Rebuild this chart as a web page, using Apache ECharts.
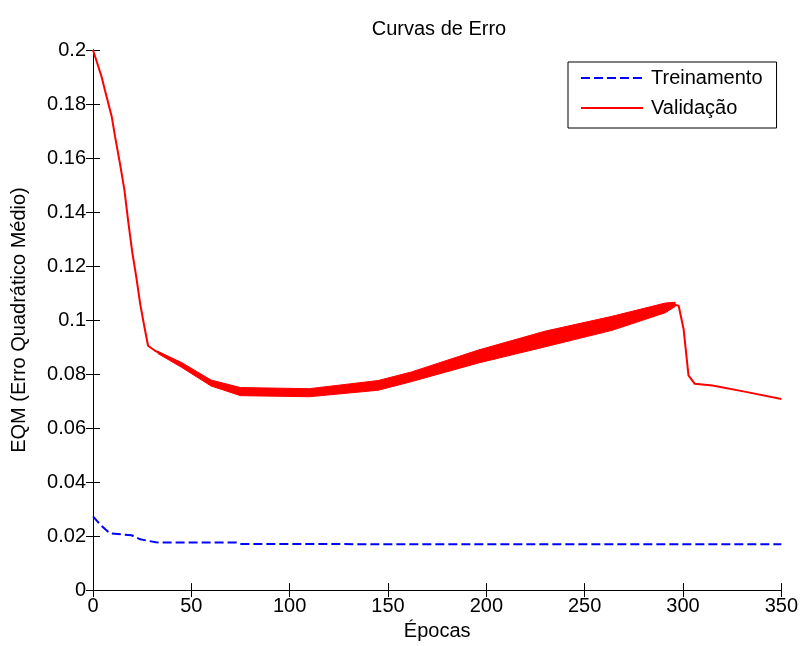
<!DOCTYPE html>
<html>
<head>
<meta charset="utf-8">
<script src="https://cdn.jsdelivr.net/npm/echarts@6/dist/echarts.min.js"></script>
<style>
html,body{margin:0;padding:0;background:#fff;}
#c{width:801px;height:646px;}
</style>
</head>
<body>
<div id="c"></div>
<script>
// ---- data ----
var titleText = 'Curvas de Erro';
var xName = 'Épocas';
var yName = 'EQM (Erro Quadrático Médio)';
var seriesNames = ['Treinamento', 'Validação'];

var trainX = [0, 4, 8.6, 19.6, 24, 32, 35, 73, 74.6, 150, 250, 350];
var trainY = [0.0273, 0.0240, 0.0210, 0.0203, 0.0188, 0.0177, 0.0176, 0.0176, 0.0171, 0.0170, 0.0170, 0.0170];

var valX = [0, 4.4, 6.1, 9.5, 11.2, 13.7, 16, 18, 20, 22, 24, 26, 28, 31.4, 36.5, 44, 52.6, 61, 71, 81, 92, 103, 120, 134, 145, 162, 179, 196, 213, 230, 247, 264, 281, 291, 294, 297.8, 300.3, 302.8, 306, 315, 332, 350];
var valY = [0.200, 0.190, 0.185, 0.1754, 0.168, 0.158, 0.148, 0.136, 0.125, 0.116, 0.106, 0.098, 0.0905, 0.0887, 0.0868, 0.0838, 0.0794, 0.0764, 0.0739, 0.0728, 0.0727, 0.0728, 0.0739, 0.0749, 0.0758, 0.0790, 0.0831, 0.0865, 0.0902, 0.0930, 0.0962, 0.0988, 0.1025, 0.1045, 0.1060, 0.1053, 0.0967, 0.0795, 0.0764, 0.0758, 0.0734, 0.0708];

// noisy envelope of the validation curve
var bandX     = [33,     45,     60,     75,     110,    145,    162,    196,    230,    264,    291,    296];
var bandUpper = [0.0884, 0.0843, 0.0778, 0.0750, 0.0746, 0.0776, 0.0808, 0.0889, 0.0959, 0.1014, 0.1063, 0.1066];
var bandLower = [0.0876, 0.0825, 0.0756, 0.0720, 0.0716, 0.0740, 0.0772, 0.0841, 0.0901, 0.0962, 0.1027, 0.1050];

var xTicks = {min: 0, max: 350, interval: 50};
var yTicks = {min: 0, max: 0.2, interval: 0.02};

function pairs(xs, ys) { return xs.map(function (x, i) { return [x, ys[i]]; }); }

var font = 'Liberation Sans, Arial, Helvetica, sans-serif';
var chart = echarts.init(document.getElementById('c'), null, {renderer: 'canvas'});

var axisLineStyle = {show: true, lineStyle: {color: '#000', width: 1}};
var tickStyle = {show: true, inside: true, length: 7, lineStyle: {color: '#000', width: 1}};

chart.setOption({
  animation: false,
  backgroundColor: '#fff',
  title: {
    text: titleText, left: 434, top: 14, textAlign: 'center',
    textStyle: {fontFamily: font, fontSize: 20, fontWeight: 'normal', color: '#000'}
  },
  grid: {left: 93, top: 50, right: 18, bottom: 54, containLabel: false},
  legend: {
    data: seriesNames,
    orient: 'vertical',
    left: 568, top: 62,
    padding: [6, 14, 10, 12],
    itemWidth: 62, itemHeight: 14, itemGap: 10,
    backgroundColor: '#fff',
    borderColor: '#000', borderWidth: 1, borderRadius: 0,
    itemStyle: {opacity: 0},
    lineStyle: {width: 2},
    textStyle: {fontFamily: font, fontSize: 20, color: '#000', padding: [0, 0, 0, 3]}
  },
  xAxis: [{
    type: 'value', min: xTicks.min, max: xTicks.max, interval: xTicks.interval,
    name: xName, nameLocation: 'middle', nameGap: 30,
    nameTextStyle: {fontFamily: font, fontSize: 20, color: '#000'},
    axisLine: axisLineStyle, axisTick: tickStyle,
    axisLabel: {fontFamily: font, fontSize: 20, color: '#000', margin: 6},
    splitLine: {show: false}
  }, {
    type: 'value', position: 'top', min: xTicks.min, max: xTicks.max, interval: xTicks.interval,
    axisLine: axisLineStyle, axisTick: tickStyle, axisLabel: {show: false}, splitLine: {show: false}
  }],
  yAxis: [{
    type: 'value', min: yTicks.min, max: yTicks.max, interval: yTicks.interval,
    name: yName, nameLocation: 'middle', nameGap: 64, nameRotate: 90,
    nameTextStyle: {fontFamily: font, fontSize: 20, color: '#000'},
    axisLine: axisLineStyle, axisTick: tickStyle,
    axisLabel: {fontFamily: font, fontSize: 20, color: '#000', margin: 7},
    splitLine: {show: false}
  }, {
    type: 'value', position: 'right', min: yTicks.min, max: yTicks.max, interval: yTicks.interval,
    axisLine: axisLineStyle, axisTick: tickStyle, axisLabel: {show: false}, splitLine: {show: false}
  }],
  series: [
    {
      name: 'band', type: 'custom', xAxisIndex: 0, yAxisIndex: 0, silent: true,
      data: [[bandX[0], bandUpper[0]]],
      clip: true,
      renderItem: function (params, api) {
        var pts = [];
        for (var i = 0; i < bandX.length; i++) pts.push(api.coord([bandX[i], bandUpper[i]]));
        for (var j = bandX.length - 1; j >= 0; j--) pts.push(api.coord([bandX[j], bandLower[j]]));
        return {type: 'polygon', shape: {points: pts}, style: {fill: '#ff0000', stroke: '#ff0000', lineWidth: 1}};
      },
      z: 2
    },
    {
      name: seriesNames[0], type: 'line', xAxisIndex: 0, yAxisIndex: 0,
      data: pairs(trainX, trainY), symbol: 'none', showSymbol: false,
      color: '#0000ff',
      lineStyle: {color: '#0000ff', width: 2, type: [9, 4]},
      z: 3
    },
    {
      name: seriesNames[1], type: 'line', xAxisIndex: 0, yAxisIndex: 0,
      data: pairs(valX, valY), symbol: 'none', showSymbol: false,
      color: '#ff0000',
      lineStyle: {color: '#ff0000', width: 2},
      z: 3
    }
  ]
});
</script>
</body>
</html>
